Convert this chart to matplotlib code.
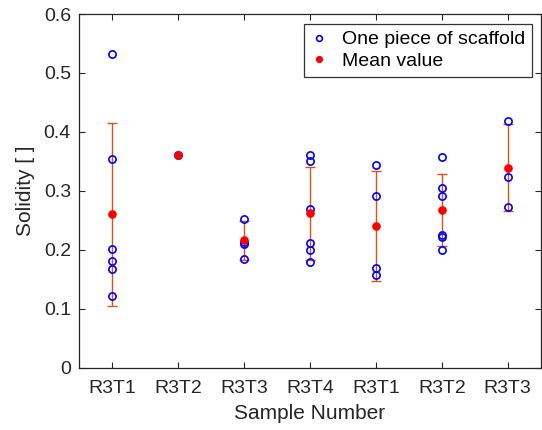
import numpy as np
import matplotlib
matplotlib.use("Agg")
import matplotlib.pyplot as plt

# Sample labels along the x axis
samples = ["R3T1", "R3T2", "R3T3", "R3T4", "R3T1", "R3T2", "R3T3"]

# Solidity of each individual scaffold piece, per sample
pieces = [
    [0.532, 0.354, 0.202, 0.181, 0.168, 0.121],
    [0.360],
    [0.252, 0.214, 0.210, 0.185],
    [0.361, 0.350, 0.269, 0.212, 0.200, 0.180],
    [0.344, 0.292, 0.169, 0.157],
    [0.358, 0.305, 0.291, 0.225, 0.221, 0.200],
    [0.419, 0.324, 0.273],
]

# Mean solidity and standard deviation per sample
means = [0.260, 0.360, 0.216, 0.262, 0.240, 0.267, 0.339]
stds = [0.155, np.nan, 0.033, 0.079, 0.093, 0.061, 0.074]

plt.rcParams["font.family"] = ["Liberation Sans", "DejaVu Sans"]
ink = (0.15, 0.15, 0.15)

fig = plt.figure(figsize=(5.42, 4.30), dpi=100)
ax = fig.add_axes([0.1463, 0.1449, 0.9976 - 0.1463, 0.9674 - 0.1449])

x = np.arange(1, len(samples) + 1)

ax.errorbar(x, means, yerr=stds, fmt="none", ecolor=(0.85, 0.325, 0.098),
            elinewidth=1.0, capsize=3.5, capthick=1.0, zorder=2)

px = np.concatenate([[xi] * len(p) for xi, p in zip(x, pieces)])
py = np.concatenate(pieces)
ax.plot(px, py, linestyle="none", marker="o", markersize=5.2,
        markerfacecolor="none", markeredgecolor=(0, 0, 1), markeredgewidth=1.2,
        label="One piece of scaffold", zorder=3)
ax.plot(x, means, linestyle="none", marker="o", markersize=5.2,
        markerfacecolor=(1, 0, 0), markeredgecolor=(1, 0, 0),
        label="Mean value", zorder=4)

ax.set_xlim(0.5, 7.5)
ax.set_ylim(0, 0.6)
ax.set_xticks(x)
ax.set_xticklabels(samples)
yt = np.round(np.arange(0, 0.61, 0.1), 1)
ax.set_yticks(yt)
ax.set_yticklabels(["0"] + [f"{v:.1f}" for v in yt[1:]])

ax.tick_params(direction="in", top=True, right=True, length=4, width=0.8,
               colors=ink, labelsize=14)
ax.tick_params(axis="x", pad=9)
ax.tick_params(axis="y", pad=6)
for s in ax.spines.values():
    s.set_color(ink)
    s.set_linewidth(0.9)

ax.set_xlabel("Sample Number", fontsize=15, color=ink, labelpad=5)
ax.set_ylabel("Solidity [ ]", fontsize=15, color=ink, labelpad=6)

leg = ax.legend(loc="upper right", bbox_to_anchor=(0.981, 0.972), fontsize=14,
                frameon=True, fancybox=False, edgecolor="black",
                borderaxespad=0, handlelength=0.8, handletextpad=0.8,
                borderpad=0.35, labelspacing=0.2, markerscale=0.8)
leg.get_frame().set_linewidth(0.9)

fig.savefig("out.png", dpi=100)
